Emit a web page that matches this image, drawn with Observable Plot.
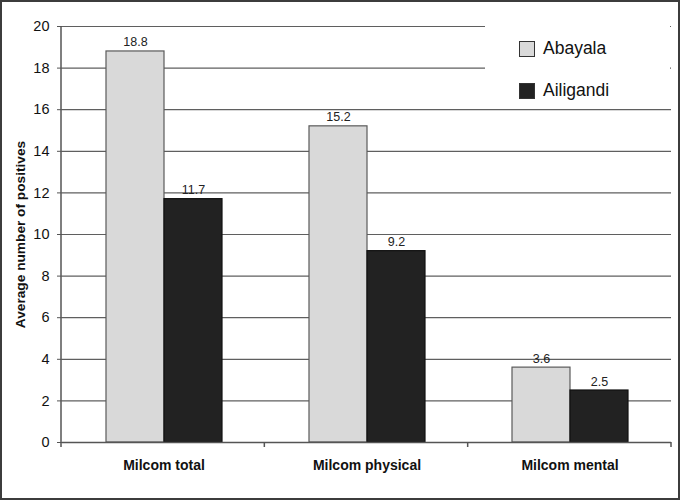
<!DOCTYPE html>
<html>
<head>
<meta charset="utf-8">
<script src="https://cdn.jsdelivr.net/npm/d3@7"></script>
<script src="https://cdn.jsdelivr.net/npm/@observablehq/plot@0.6"></script>
<style>
  body { margin: 0; background: white; }
  #wrap { position: relative; width: 680px; height: 500px; box-sizing: border-box; border: 2px solid #3c3c3c; background: white; font-family: "Liberation Sans", Arial, sans-serif; }
  #wrap svg { display: block; }
  g[aria-label="y-axis label"] text { font-weight: bold; font-size: 13.7px; }
  #legend { position: absolute; left: 483px; top: 1px; width: 185px; height: 104px; background: white; }
  .item { position: absolute; left: 34px; display: flex; align-items: center; font-size: 17.5px; color: #111; }
  .sw { width: 14px; height: 14px; border: 1.5px solid #333; margin-right: 8px; }
</style>
</head>
<body>
<div id="wrap"><div id="legend"></div></div>
<script>
const categories = ["Milcom total", "Milcom physical", "Milcom mental"];
const series = ["Abayala", "Ailigandi"];
const abayala = [18.8, 15.2, 3.6];
const ailigandi = [11.7, 9.2, 2.5];
const yTicks = [0, 2, 4, 6, 8, 10, 12, 14, 16, 18, 20];
const colors = ["#d9d9d9", "#222222"];
const strokes = ["#5a5a5a", "#111111"];

const data = categories.flatMap((c, i) => [
  {cat: c, series: series[0], value: abayala[i]},
  {cat: c, series: series[1], value: ailigandi[i]}
]);

const W = 676, H = 496, ML = 59, MR = 7, MT = 24, MB = 56;

const chart = Plot.plot({
  width: W, height: H,
  marginLeft: ML, marginRight: MR, marginTop: MT, marginBottom: MB,
  style: {fontFamily: "'Liberation Sans', Arial, sans-serif", background: "white", color: "#111"},
  fx: {domain: categories, padding: 0, label: null},
  x: {domain: series, paddingInner: 0, paddingOuter: 0.75, axis: null},
  y: {domain: [0, 20]},
  marks: [
    Plot.ruleY(yTicks.slice(1), {stroke: "#5f5f5f", strokeWidth: 1.2}),
    ...series.map((s, k) => Plot.barY(data.filter(d => d.series === s), {
      fx: "cat", x: "series", y: "value", fill: colors[k], stroke: strokes[k], strokeWidth: 1.2, inset: 0
    })),
    Plot.ruleY([0], {stroke: "#555", strokeWidth: 1.5}),
    Plot.text(data, {fx: "cat", x: "series", y: "value", text: d => d.value.toFixed(1), dy: -5, lineAnchor: "bottom", fontSize: 12.5, fill: "#222"}),
    Plot.axisY({ticks: yTicks, tickSize: 5, tickPadding: 8, fontSize: 14.5, label: "Average number of positives", labelAnchor: "center", labelOffset: 47, labelArrow: "none", stroke: "#555"}),
    Plot.axisFx({anchor: "bottom", tickSize: 0, tickPadding: 18, fontSize: 14, fontWeight: "bold", label: null})
  ]
});

document.getElementById("wrap").prepend(chart);

// axis line and category boundary ticks, from the chart's own scales
const fxS = chart.scale("fx"), yS = chart.scale("y");
const fx = d3.scaleBand().domain(fxS.domain).range(fxS.range).paddingInner(fxS.paddingInner || 0).paddingOuter(fxS.paddingOuter || 0);
const y = d3.scaleLinear().domain(yS.domain).range(yS.range);
const svg = d3.select(chart);
const y0 = y(0), yTop = y(d3.max(yTicks));
const left = fx(categories[0]);
svg.append("line").attr("x1", left).attr("x2", left).attr("y1", yTop).attr("y2", y0 + 5).attr("stroke", "#555").attr("stroke-width", 1.5);
categories.forEach(c => {
  const xb = fx(c) + fx.bandwidth();
  svg.append("line").attr("x1", xb).attr("x2", xb).attr("y1", y0).attr("y2", y0 + 5).attr("stroke", "#555").attr("stroke-width", 1.5);
});

// legend
const legend = document.getElementById("legend");
const tops = [35, 77];
series.forEach((s, k) => {
  const it = document.createElement("div");
  it.className = "item";
  it.style.top = tops[k] + "px";
  it.innerHTML = `<div class="sw" style="background:${colors[k]}"></div><span>${s}</span>`;
  legend.appendChild(it);
});
</script>
</body>
</html>
